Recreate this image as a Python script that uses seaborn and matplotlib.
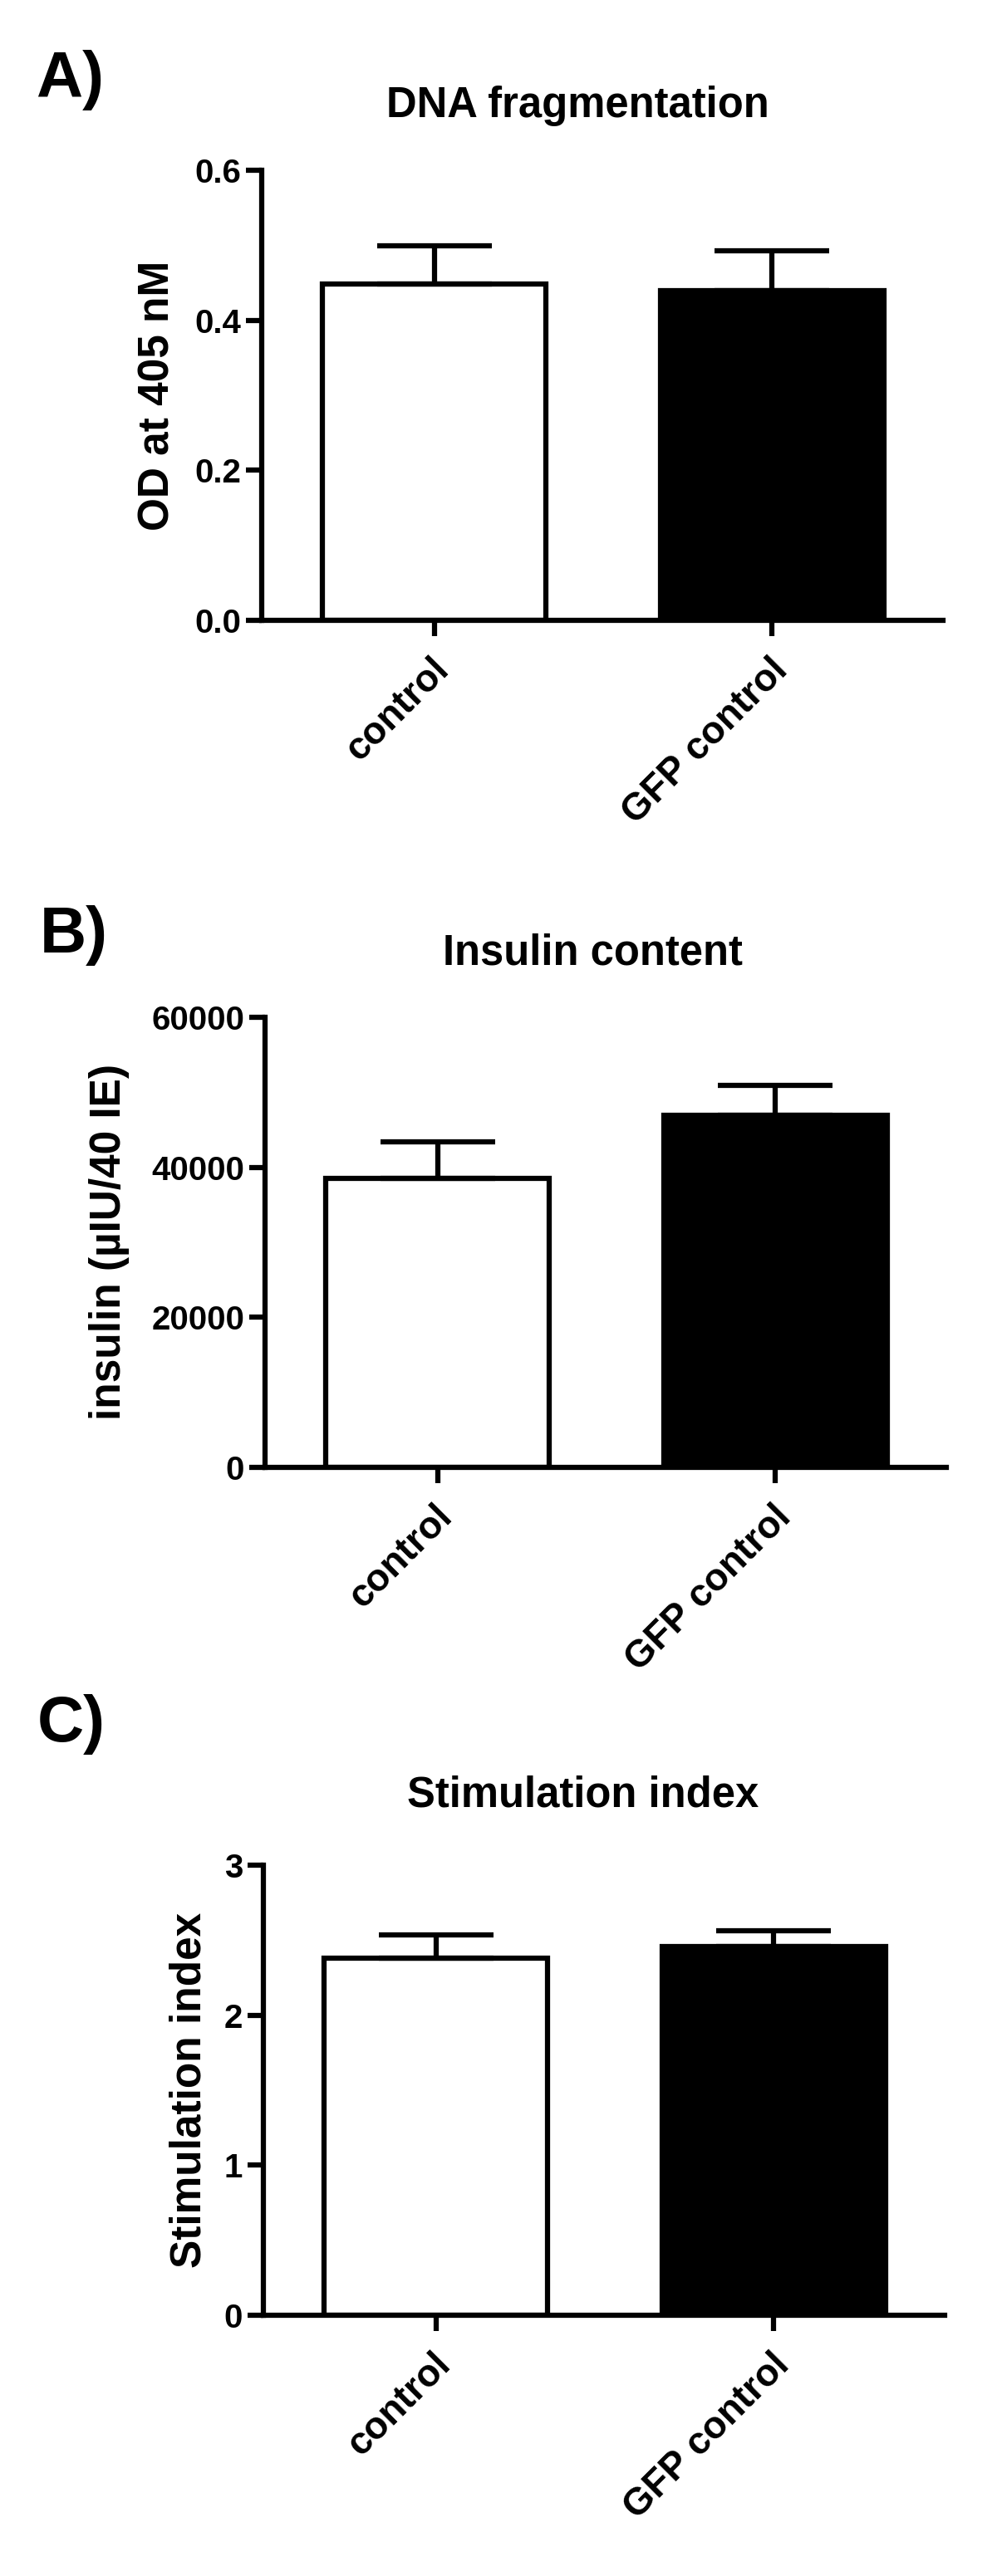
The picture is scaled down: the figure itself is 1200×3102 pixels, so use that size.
import matplotlib
matplotlib.use('Agg')
import matplotlib.pyplot as plt
import matplotlib.transforms as mtransforms
import seaborn as sns

# data (mean and SEM)
groups = ['control', 'GFP control']
bar_colors = ['white', 'black']

dna_mean = [0.448, 0.440]
dna_sem = [0.051, 0.053]

insulin_mean = [38500, 46950]
insulin_sem = [4900, 3950]

stim_mean = [2.38, 2.46]
stim_sem = [0.155, 0.105]

titles = ['DNA fragmentation', 'Insulin content', 'Stimulation index']
ylabels = ['OD at 405 nM', 'insulin (\u00b5IU/40 IE)', 'Stimulation index']
panel_tags = ['A)', 'B)', 'C)']
yticks = [[0.0, 0.2, 0.4, 0.6], [0, 20000, 40000, 60000], [0, 1, 2, 3]]
yticklabels = [['0.0', '0.2', '0.4', '0.6'], ['0', '20000', '40000', '60000'], ['0', '1', '2', '3']]

sns.set_style('ticks', {'axes.edgecolor': 'black', 'text.color': 'black',
                        'axes.labelcolor': 'black', 'xtick.color': 'black',
                        'ytick.color': 'black'})
plt.rcParams['font.family'] = ['Liberation Sans', 'DejaVu Sans']
plt.rcParams['font.weight'] = 'bold'

W, H = 1200, 3102
fig = plt.figure(figsize=(W / 100, H / 100), dpi=100)

lw = 4.5
# pixel layout of each panel: y-axis x, axes top, axes bottom, ylabel centre x, title x/baseline, tag x/baseline
layout = [
    dict(left=315, top=205, bottom=747, ylab=190, tx=695, ty=141, px=43, py=117),
    dict(left=319, top=1225, bottom=1767, ylab=131, tx=713, ty=1162, px=48, py=1147),
    dict(left=317, top=2246, bottom=2788, ylab=228, tx=702, ty=2176, px=45, py=2097),
]
means = [dna_mean, insulin_mean, stim_mean]
sems = [dna_sem, insulin_sem, stim_sem]

for i, lo in enumerate(layout):
    ax = fig.add_axes([lo['left'] / W, 1 - lo['bottom'] / H, 820 / W, (lo['bottom'] - lo['top']) / H])
    sns.barplot(x=groups, y=means[i], hue=groups, palette=bar_colors, legend=False,
                edgecolor='black', linewidth=lw, width=0.66, saturation=1, ax=ax)
    ax.errorbar([0, 1], means[i], yerr=[[0, 0], sems[i]], fmt='none', ecolor='black',
                elinewidth=lw, capsize=50, capthick=lw, zorder=1)
    ax.set_xlim(-0.51, 1.505)
    ax.set_ylim(yticks[i][0], yticks[i][-1])
    ax.set_yticks(yticks[i])
    ax.set_yticklabels(yticklabels[i])
    sns.despine(ax=ax)
    for s in ['left', 'bottom']:
        ax.spines[s].set_linewidth(lw)
        ax.spines[s].set_color('black')
        ax.spines[s].set_capstyle('projecting')
    ax.tick_params(axis='both', direction='out', length=14, width=lw, color='black',
                   labelcolor='black')
    ax.tick_params(axis='y', labelsize=29, pad=4)
    ax.tick_params(axis='x', labelsize=33, pad=13)
    for lbl in ax.get_xticklabels():
        lbl.set_rotation(45)
        lbl.set_ha('right')
        lbl.set_va('top')
        lbl.set_rotation_mode('anchor')
        lbl.set_fontweight('bold')
        lbl.set_transform(lbl.get_transform() + mtransforms.ScaledTranslation(-4 / 100, 0, fig.dpi_scale_trans))
    for lbl in ax.get_yticklabels():
        lbl.set_fontweight('bold')
    ax.set_xlabel('')
    ax.set_ylabel(ylabels[i], fontsize=37, fontweight='bold', va='center', color='black')
    ax.yaxis.set_label_coords((lo['ylab'] - lo['left']) / 820, 0.5)

    fig.text(lo['tx'] / W, 1 - lo['ty'] / H, titles[i], ha='center', va='baseline',
             fontsize=36.5, fontweight='bold', color='black')
    fig.text(lo['px'] / W, 1 - lo['py'] / H, panel_tags[i], ha='left', va='baseline',
             fontsize=56, fontweight='bold', color='black')

fig.savefig('out.png', dpi=100, facecolor='white')
